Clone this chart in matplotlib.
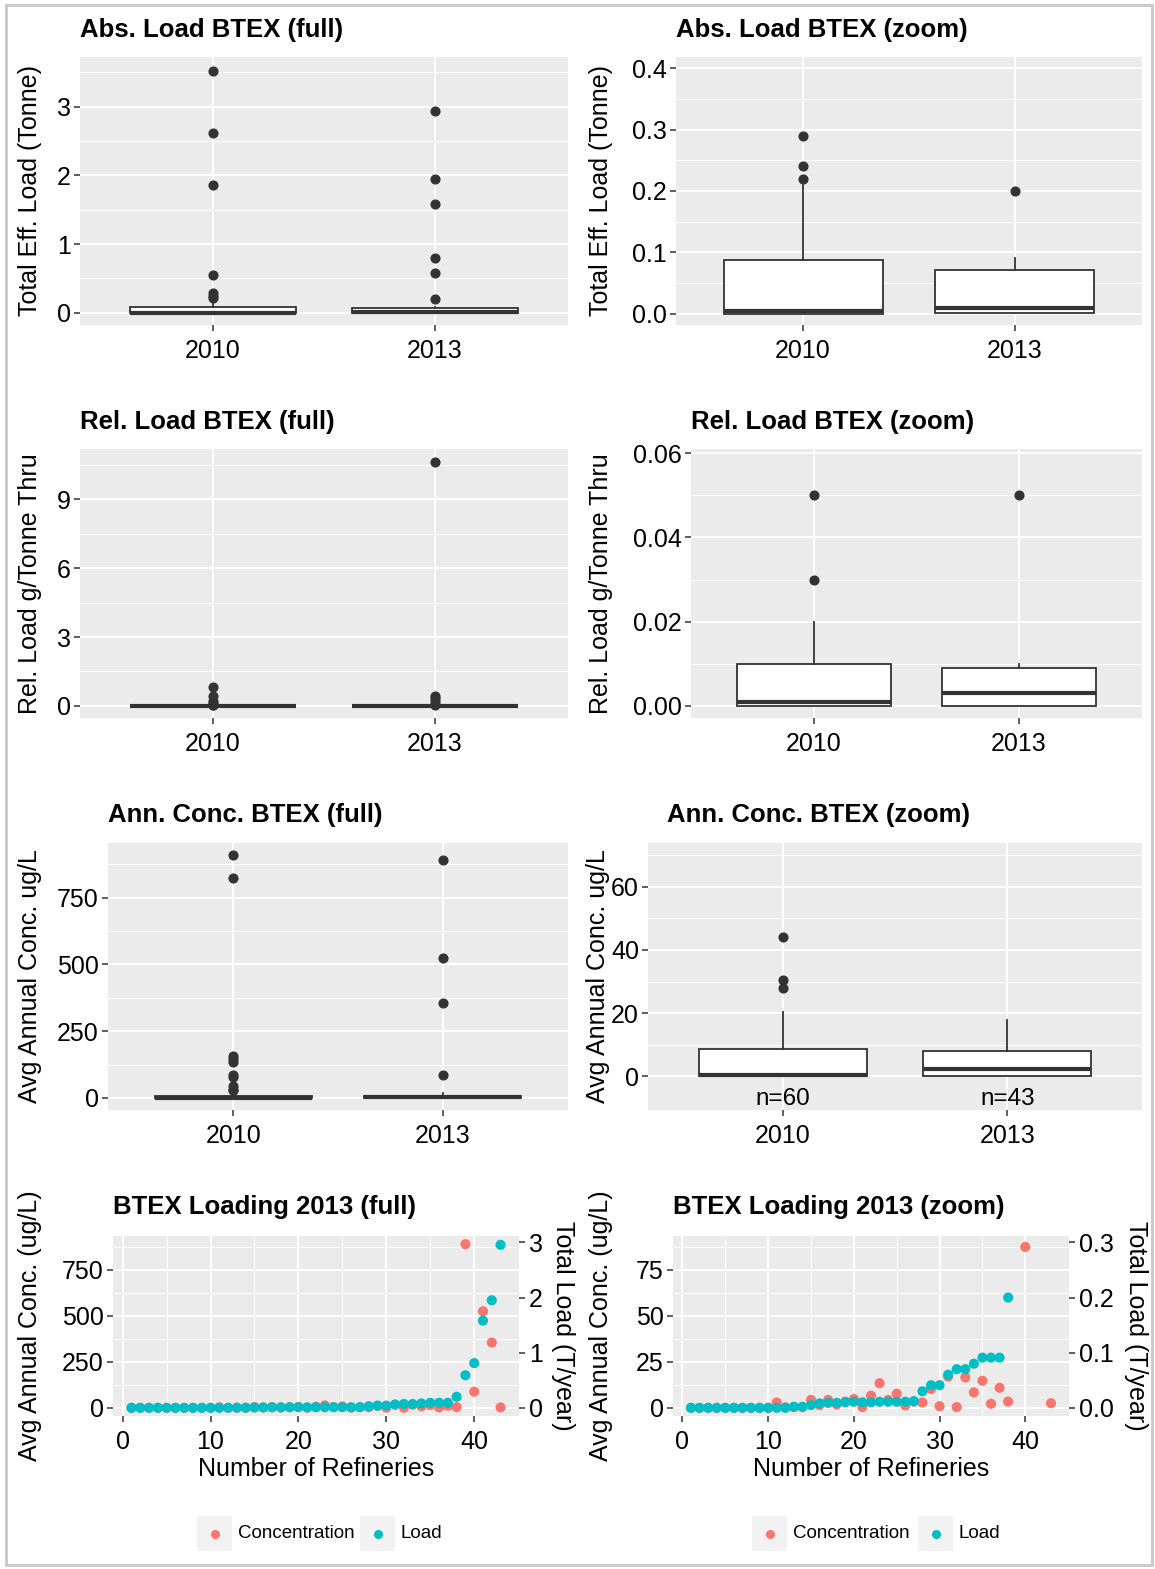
import matplotlib
matplotlib.use("Agg")
import matplotlib.pyplot as plt
import numpy as np
from matplotlib.patches import Rectangle
from matplotlib.ticker import FixedLocator, FormatStrFormatter

plt.rcParams['font.family'] = ['Liberation Sans', 'DejaVu Sans']

W, H = 1155, 1569
PANEL_BG = '#EBEBEB'
DARK = '#333333'
RED = '#F8766D'
TEAL = '#00BFC4'
FS = 18

years = ["2010", "2013"]

# ---- box stats: q1, median, q3, upper whisker, outliers
abs_q1 = [0.0, 0.001]
abs_med = [0.004, 0.010]
abs_q3 = [0.088, 0.071]
abs_whi = [0.21, 0.091]
abs_out_2010 = [0.22, 0.24, 0.29, 0.55, 1.86, 2.62, 3.52]
abs_out_2013 = [0.20, 0.58, 0.80, 1.58, 1.94, 2.94]

rel_q1 = [0.0, 0.0]
rel_med = [0.001, 0.003]
rel_q3 = [0.010, 0.009]
rel_whi = [0.020, 0.010]
rel_out_2010 = [0.03, 0.05, 0.12, 0.19, 0.45, 0.84]
rel_out_2013 = [0.05, 0.10, 0.20, 0.35, 0.45, 10.63]

conc_q1 = [0.1, 0.2]
conc_med = [0.5, 2.5]
conc_q3 = [8.75, 8.1]
conc_whi = [20.4, 17.8]
conc_out_2010 = [28.0, 30.5, 44.0, 78, 84, 135, 145, 157, 824, 912]
conc_out_2013 = [85, 356, 526, 891]
conc_n = ["n=60", "n=43"]

# ---- 2013 loading per refinery (sorted by load)
refinery = [1, 2, 3, 4, 5, 6, 7, 8, 9, 10, 11, 12, 13, 14, 15, 16, 17, 18, 19, 20, 21, 22,
            23, 24, 25, 26, 27, 28, 29, 30, 31, 32, 33, 34, 35, 36, 37, 38, 39, 40, 41, 42, 43]
conc_2013 = [0, 0, 0, 0, 0, 0, 0, 0, 0, 0, 2.9, 0.3, 0.3, 0.3, 4.3, 1.5, 4.3, 1.8, 3.4, 4.8,
             0.4, 6.6, 13.4, 4.3, 7.7, 1.3, 3.4, 2.9, 10.2, 0.9, 17.0, 0.4, 16.5, 8.4, 14.7,
             2.2, 10.9, 3.4, 890, 87.5, 525, 355, 2.5]
load_2013 = [0, 0, 0, 0, 0, 0, 0, 0, 0, 0, 0, 0, 0.002, 0.002, 0.005, 0.008, 0.009, 0.009,
             0.010, 0.011, 0.010, 0.010, 0.011, 0.011, 0.011, 0.011, 0.012, 0.030, 0.041,
             0.041, 0.060, 0.070, 0.070, 0.080, 0.091, 0.091, 0.091, 0.200, 0.59, 0.81,
             1.58, 1.95, 2.955]
SEC_SCALE = 300  # 1 T/year on right axis == 300 ug/L on left axis


fig = plt.figure(figsize=(W / 100, H / 100), dpi=100)
fig.patches.append(Rectangle((6 / W, 1 - 1565 / H), 1146 / W, 1560 / H, transform=fig.transFigure,
                             fill=False, edgecolor='#C8C8C8', lw=2))


def gg_axes(x0, y0, x1, y1):
    ax = fig.add_axes([x0 / W, 1 - y1 / H, (x1 - x0) / W, (y1 - y0) / H])
    ax.set_facecolor(PANEL_BG)
    for s in ax.spines.values():
        s.set_visible(False)
    ax.set_axisbelow(True)
    ax.tick_params(which='major', colors=DARK, length=4, width=1.1, labelsize=FS,
                   labelcolor='black', pad=2.5)
    ax.tick_params(axis='x', pad=6)
    ax.tick_params(which='minor', length=0)
    ax.grid(which='major', color='white', lw=1.4)
    ax.yaxis.grid(True, which='minor', color='white', lw=0.7)
    return ax


def set_y(ax, lim, major, minor, fmt=None):
    ax.set_ylim(*lim)
    ax.yaxis.set_major_locator(FixedLocator(major))
    ax.yaxis.set_minor_locator(FixedLocator(minor))
    if fmt:
        ax.yaxis.set_major_formatter(FormatStrFormatter(fmt))


def title(x0, yc, text):
    fig.text(x0 / W, 1 - yc / H, text, ha='left', va='center', fontsize=18.5, weight='bold')


def ylabel(xc, y0, y1, text, rot=90):
    fig.text(xc / W, 1 - (y0 + y1) / 2 / H, text, rotation=rot, ha='center', va='center',
             fontsize=FS)


def boxes(ax, q1, med, q3, whi, outs):
    stats = []
    for i in range(2):
        stats.append(dict(q1=q1[i], med=med[i], q3=q3[i], whislo=q1[i], whishi=whi[i],
                          fliers=outs[i]))
    ax.bxp(stats, positions=[1, 2], widths=0.75, patch_artist=True, showcaps=False,
           boxprops=dict(facecolor='white', edgecolor=DARK, lw=1.3),
           whiskerprops=dict(color=DARK, lw=1.3),
           medianprops=dict(color=DARK, lw=3),
           flierprops=dict(marker='o', markerfacecolor=DARK, markeredgecolor='none',
                           markersize=7.3))
    ax.set_xlim(0.4, 2.6)
    ax.set_xticks([1, 2])
    ax.set_xticklabels(years)


# ---- row 1: absolute load
ax = gg_axes(80, 57, 568, 325)
boxes(ax, abs_q1, abs_med, abs_q3, abs_whi, [abs_out_2010, abs_out_2013])
set_y(ax, (-0.177, 3.72), [0, 1, 2, 3], [0.5, 1.5, 2.5, 3.5])
title(80, 30, "Abs. Load BTEX (full)")
ylabel(30, 57, 325, "Total Eff. Load (Tonne)")

ax = gg_axes(676, 57, 1142, 325)
boxes(ax, abs_q1, abs_med, abs_q3, abs_whi, [abs_out_2010, abs_out_2013])
set_y(ax, (-0.018, 0.418), [0, 0.1, 0.2, 0.3, 0.4], [0.05, 0.15, 0.25, 0.35], '%.1f')
title(676, 30, "Abs. Load BTEX (zoom)")
ylabel(601, 57, 325, "Total Eff. Load (Tonne)")

# ---- row 2: relative load
ax = gg_axes(80, 449, 568, 718)
boxes(ax, rel_q1, rel_med, rel_q3, rel_whi, [rel_out_2010, rel_out_2013])
set_y(ax, (-0.53, 11.2), [0, 3, 6, 9], [1.5, 4.5, 7.5, 10.5])
title(80, 422, "Rel. Load BTEX (full)")
ylabel(30, 449, 718, "Rel. Load g/Tonne Thru")

ax = gg_axes(691, 449, 1142, 718)
boxes(ax, rel_q1, rel_med, rel_q3, rel_whi, [rel_out_2010, rel_out_2013])
set_y(ax, (-0.0029, 0.061), [0, 0.02, 0.04, 0.06], [0.01, 0.03, 0.05], '%.2f')
title(691, 422, "Rel. Load BTEX (zoom)")
ylabel(601, 449, 718, "Rel. Load g/Tonne Thru")

# ---- row 3: annual concentration
ax = gg_axes(108, 843, 568, 1110)
boxes(ax, conc_q1, conc_med, conc_q3, conc_whi, [conc_out_2010, conc_out_2013])
set_y(ax, (-45.5, 955.5), [0, 250, 500, 750], [125, 375, 625, 875])
title(108, 815, "Ann. Conc. BTEX (full)")
ylabel(30, 843, 1110, "Avg Annual Conc. ug/L")

ax = gg_axes(648, 843, 1142, 1110)
boxes(ax, conc_q1, conc_med, conc_q3, conc_whi, [conc_out_2010, conc_out_2013])
set_y(ax, (-10.6, 73.8), [0, 20, 40, 60], [10, 30, 50, 70])
for i, lab in enumerate(conc_n):
    ax.text(i + 1, -7, lab, ha='center', va='center', fontsize=FS - 0.5)
title(667, 815, "Ann. Conc. BTEX (zoom)")
ylabel(598, 843, 1110, "Avg Annual Conc. ug/L")


# ---- row 4: loading scatter
def loading(x0, x1, ylim, major, minor, sec_ticks, sec_fmt, name, lab_x, rlab_x):
    ax = gg_axes(x0, 1236, x1, 1416)
    ax.scatter(refinery, conc_2013, s=53, color=RED, edgecolors='none', zorder=3)
    ax.scatter(refinery, np.array(load_2013) * SEC_SCALE, s=53, color=TEAL,
               edgecolors='none', zorder=4)
    ax.set_xlim(-1.1, 45.1)
    ax.xaxis.set_major_locator(FixedLocator([0, 10, 20, 30, 40]))
    ax.xaxis.set_minor_locator(FixedLocator([5, 15, 25, 35]))
    ax.xaxis.grid(True, which='minor', color='white', lw=0.7)
    set_y(ax, ylim, major, minor)
    sec = ax.secondary_yaxis('right', functions=(lambda v: v / SEC_SCALE,
                                                  lambda t: t * SEC_SCALE))
    sec.spines['right'].set_visible(False)
    sec.set_yticks(sec_ticks)
    sec.yaxis.set_major_formatter(FormatStrFormatter(sec_fmt))
    sec.tick_params(colors=DARK, length=4, width=1.1, labelsize=FS, labelcolor='black', pad=3)
    sec.tick_params(which='minor', length=0)
    title(x0, 1207, name)
    ylabel(lab_x, 1236, 1416, "Avg Annual Conc. (ug/L)")
    ylabel(rlab_x, 1236, 1416, "Total Load (T/year)", rot=270)
    fig.text((x0 + x1) / 2 / W, 1 - 1469 / H, "Number of Refineries", ha='center',
             va='center', fontsize=FS)
    return ax


ax = loading(113, 519, (-44.5, 934.5), [0, 250, 500, 750], [125, 375, 625, 875],
             [0, 1, 2, 3], '%d', "BTEX Loading 2013 (full)", 30, 563)
ax = loading(673, 1069, (-4.45, 93.45), [0, 25, 50, 75], [12.5, 37.5, 62.5, 87.5],
             [0, 0.1, 0.2, 0.3], '%.1f', "BTEX Loading 2013 (zoom)", 601, 1136)


# ---- legends (one below each scatter panel)
def legend(key1_x, key2_x):
    for kx, col, lab in [(key1_x, RED, "Concentration"), (key2_x, TEAL, "Load")]:
        kax = fig.add_axes([kx / W, 1 - 1551 / H, 35 / W, 35 / H])
        kax.set_facecolor('#F2F2F2')
        kax.set_xlim(0, 1)
        kax.set_ylim(0, 1)
        kax.set_xticks([])
        kax.set_yticks([])
        for s in kax.spines.values():
            s.set_visible(False)
        kax.plot([0.5], [0.5], 'o', color=col, markersize=6.5, markeredgecolor='none')
        fig.text((kx + 41) / W, 1 - 1533 / H, lab, ha='left', va='center', fontsize=13.5)


legend(197, 360)
legend(752, 918)

fig.savefig("out.png", dpi=100)
